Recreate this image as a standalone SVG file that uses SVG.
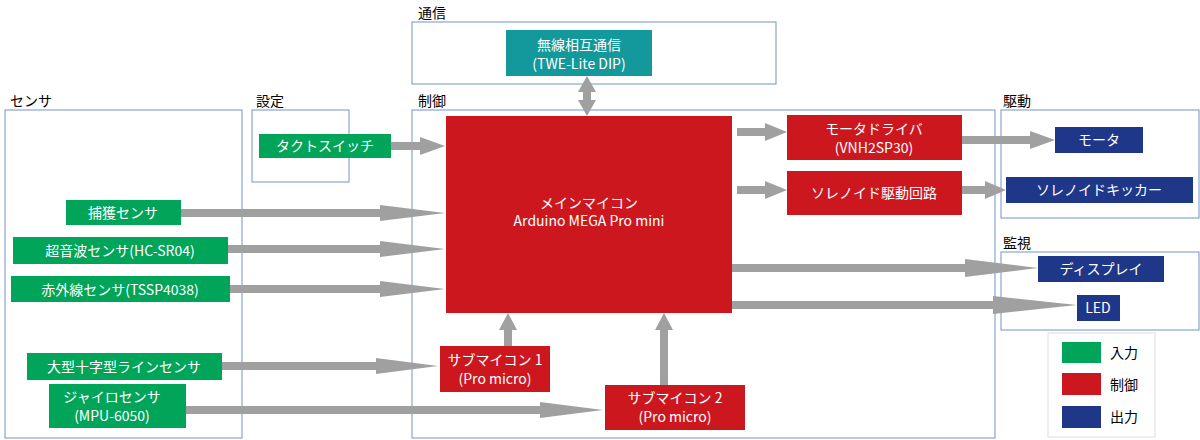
<svg xmlns="http://www.w3.org/2000/svg" width="1200" height="440" viewBox="0 0 1200 440">
<style>
.grp{fill:none;stroke:#7393c9;stroke-width:1}
.lbl{font-family:"Noto Sans CJK JP","Liberation Sans",sans-serif;font-size:14px;fill:#000}
.g{fill:#00a55a}.r{fill:#cd171f}.b{fill:#1f3788}.t{fill:#13999b}
.tx{font-family:"Noto Sans CJK JP","Liberation Sans",sans-serif;font-size:14px;fill:#fff;text-anchor:middle}
.ar{fill:#a0a0a0}
</style>
<rect width="1200" height="440" fill="#fff"/>
<g id="groups">
<rect class="grp" x="412" y="22" width="364" height="62"/><text class="lbl" x="418" y="18">通信</text>
<rect class="grp" x="5" y="110" width="237" height="328"/><text class="lbl" x="10" y="106">センサ</text>
<rect class="grp" x="252" y="110" width="97" height="72"/><text class="lbl" x="256" y="106">設定</text>
<rect class="grp" x="412" y="110" width="583" height="328"/><text class="lbl" x="418" y="106">制御</text>
<rect class="grp" x="1001" y="110" width="198" height="108"/><text class="lbl" x="1003" y="106">駆動</text>
<rect class="grp" x="1001" y="252" width="198" height="78"/><text class="lbl" x="1003" y="248">監視</text>
</g>
<g id="connectors">
<polygon class="ar" points="181,209 380,209 380,205 445,213 380,221 380,217 181,217"/>
<polygon class="ar" points="228,245 380,245 380,241 445,249 380,257 380,253 228,253"/>
<polygon class="ar" points="230,285 380,285 380,281 445,289 380,297 380,293 230,293"/>
<polygon class="ar" points="222,362 376,362 376,358 438,366 376,374 376,370 222,370"/>
<polygon class="ar" points="186,406 540,406 540,402 603,410 540,418 540,414 186,414"/>
<polygon class="ar" points="391,142 420,142 420,137 445,146 420,155 420,150 391,150"/>
<polygon class="ar" points="504,346 504,330 499,330 508,313 517,330 512,330 512,346"/>
<polygon class="ar" points="660,385 660,330 655,330 664,313 673,330 668,330 668,385"/>
<polygon class="ar" points="583,92 578,92 587,76 596,92 591,92 591,100 596,100 587,116 578,100 583,100"/>
<polygon class="ar" points="737,128 765,128 765,123 787,132 765,141 765,136 737,136"/>
<polygon class="ar" points="737,186 765,186 765,181 787,190 765,199 765,194 737,194"/>
<polygon class="ar" points="962,136 1030,136 1030,131 1055,140 1030,149 1030,144 962,144"/>
<polygon class="ar" points="962,186 985,186 985,181 1006,190 985,199 985,194 962,194"/>
<polygon class="ar" points="732,264 965,264 965,259 1038,268 965,277 965,272 732,272"/>
<polygon class="ar" points="732,301 993,301 993,296 1077,305 993,314 993,309 732,309"/>
</g>
<g id="n-wireless"><rect class="t" x="506" y="30" width="146" height="46"/><text class="tx" x="579" y="50">無線相互通信</text><text class="tx" x="579" y="69">(TWE-Lite DIP)</text></g>
<g id="n-tact"><rect class="g" x="259" y="134" width="132" height="24"/><text class="tx" x="325" y="151">タクトスイッチ</text></g>
<g id="n-main"><rect class="r" x="446" y="116" width="286" height="197"/><text class="tx" x="589" y="208">メインマイコン</text><text class="tx" x="589" y="226">Arduino MEGA Pro mini</text></g>
<g id="n-motordrv"><rect class="r" x="787" y="115" width="175" height="45"/><text class="tx" x="874" y="134">モータドライバ</text><text class="tx" x="874" y="153">(VNH2SP30)</text></g>
<g id="n-solcirc"><rect class="r" x="787" y="171" width="175" height="44"/><text class="tx" x="874" y="198">ソレノイド駆動回路</text></g>
<g id="n-motor"><rect class="b" x="1055" y="127" width="88" height="26"/><text class="tx" x="1099" y="145">モータ</text></g>
<g id="n-kicker"><rect class="b" x="1006" y="177" width="187" height="26"/><text class="tx" x="1099" y="195">ソレノイドキッカー</text></g>
<g id="n-display"><rect class="b" x="1038" y="256" width="126" height="26"/><text class="tx" x="1101" y="274">ディスプレイ</text></g>
<g id="n-led"><rect class="b" x="1077" y="295" width="43" height="26"/><text class="tx" x="1098" y="313">LED</text></g>
<g id="n-capture"><rect class="g" x="66" y="200" width="115" height="25"/><text class="tx" x="123" y="218">捕獲センサ</text></g>
<g id="n-ultra"><rect class="g" x="13" y="237" width="215" height="27"/><text class="tx" x="120" y="256">超音波センサ(HC-SR04)</text></g>
<g id="n-ir"><rect class="g" x="11" y="276" width="219" height="26"/><text class="tx" x="120" y="295">赤外線センサ(TSSP4038)</text></g>
<g id="n-line"><rect class="g" x="27" y="353" width="195" height="27"/><text class="tx" x="124" y="372">大型十字型ラインセンサ</text></g>
<g id="n-gyro"><rect class="g" x="49" y="384" width="137" height="44"/><text class="tx" x="112" y="402">ジャイロセンサ</text><text class="tx" x="112" y="421">(MPU-6050)</text></g>
<g id="n-sub1"><rect class="r" x="440" y="346" width="110" height="46"/><text class="tx" x="495" y="365">サブマイコン 1</text><text class="tx" x="495" y="384">(Pro micro)</text></g>
<g id="n-sub2"><rect class="r" x="605" y="385" width="140" height="45"/><text class="tx" x="675" y="403">サブマイコン 2</text><text class="tx" x="675" y="422">(Pro micro)</text></g>
<g id="legend">
<rect x="1048" y="333" width="107" height="104" fill="none" stroke="#ddd"/>
<rect class="g" x="1062" y="342" width="39" height="21"/><text class="lbl" x="1110" y="358">入力</text>
<rect class="r" x="1062" y="373" width="39" height="22"/><text class="lbl" x="1110" y="390">制御</text>
<rect class="b" x="1062" y="406" width="39" height="22"/><text class="lbl" x="1110" y="422">出力</text>
</g>
</svg>
